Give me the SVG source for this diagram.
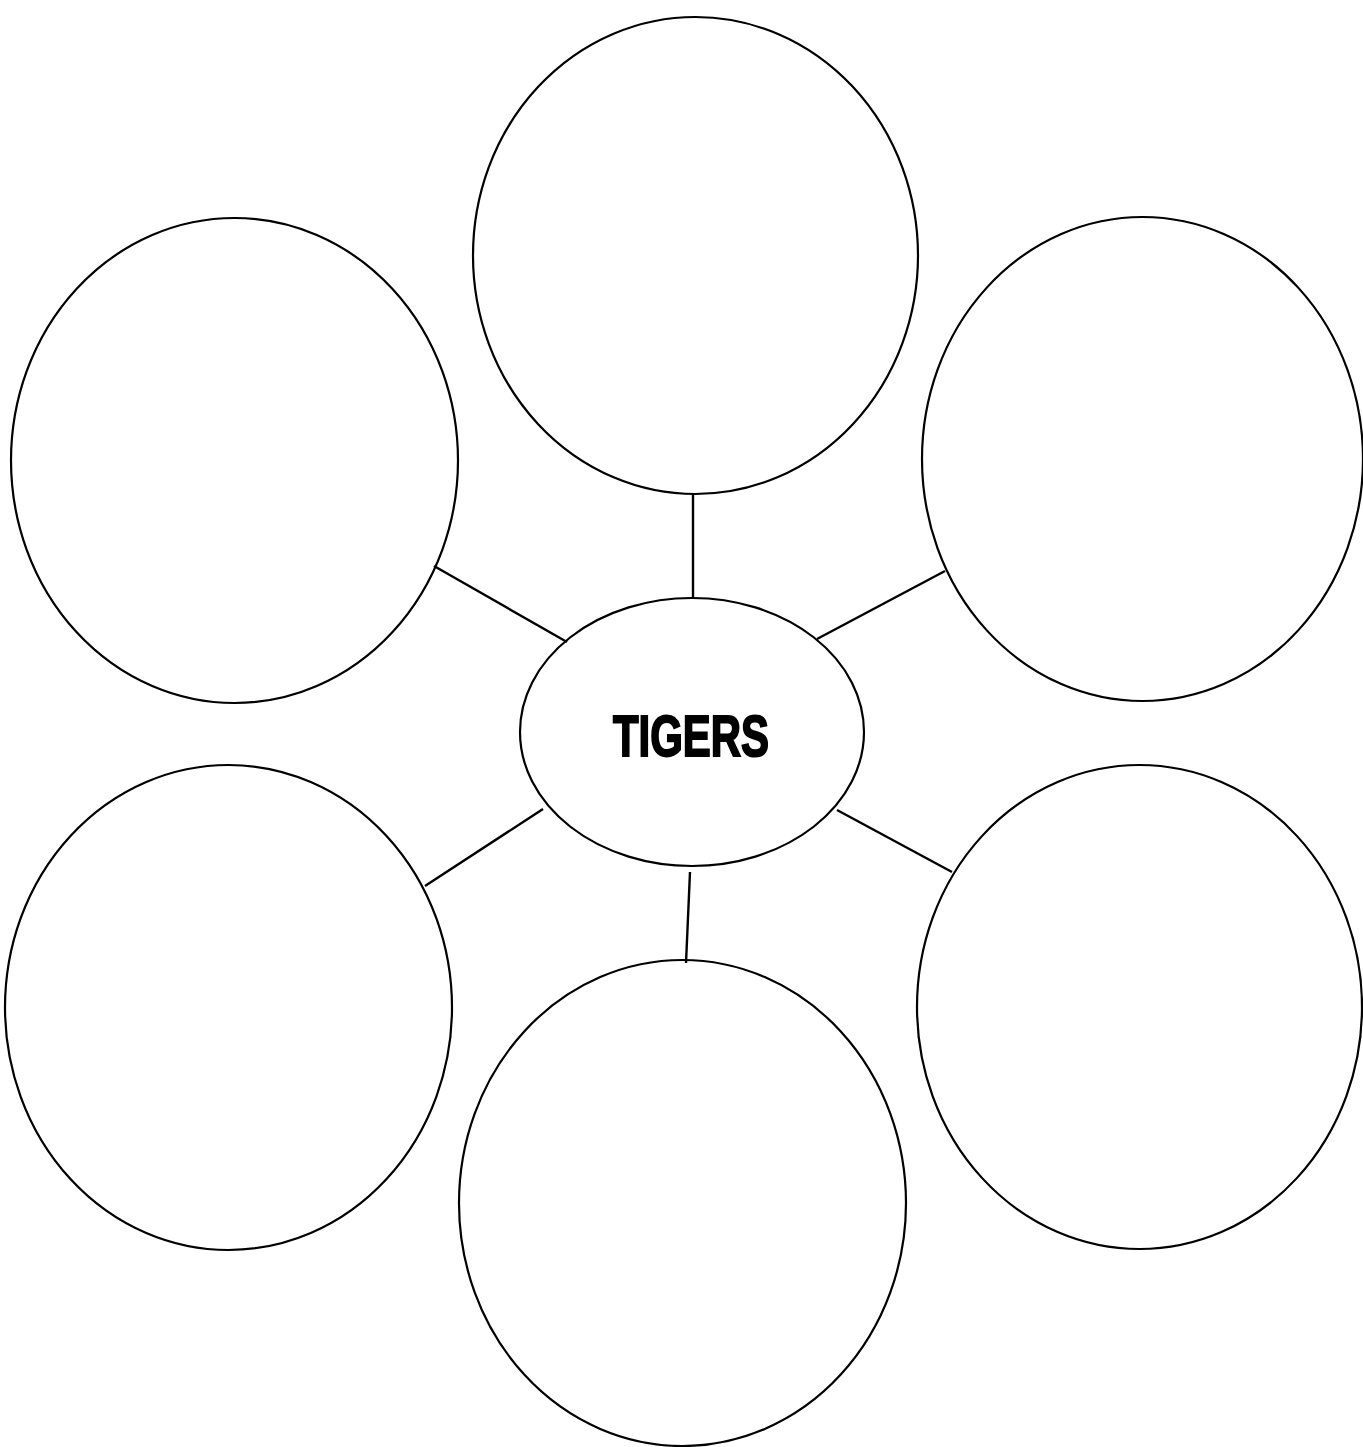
<svg xmlns="http://www.w3.org/2000/svg" width="1363" height="1447" viewBox="0 0 1363 1447">
<style>
.n{fill:none;stroke:#000;stroke-width:2.2}
.c line{stroke:#000;stroke-width:2.4}
.t{font-family:"Liberation Sans",Arial,sans-serif;font-weight:bold;font-size:57px;fill:#000;stroke:#000;stroke-width:2}
</style>
<rect width="1363" height="1447" fill="#fff"/>
<g class="c" id="connectors">
<line x1="693" y1="494" x2="693" y2="599"/>
<line x1="434" y1="566" x2="567" y2="642"/>
<line x1="945" y1="571" x2="817" y2="639"/>
<line x1="543" y1="809" x2="425" y2="886"/>
<line x1="837" y1="810" x2="952" y2="872"/>
<line x1="690" y1="872" x2="686" y2="963"/>
</g>
<g id="top"><ellipse class="n" cx="695.5" cy="255.5" rx="222.5" ry="238.5"/></g>
<g id="upper-left"><ellipse class="n" cx="234.5" cy="460.5" rx="223.5" ry="242.5"/></g>
<g id="upper-right"><ellipse class="n" cx="1142.5" cy="459" rx="220.5" ry="242"/></g>
<g id="lower-left"><ellipse class="n" cx="228.5" cy="1007.5" rx="223.5" ry="242.5"/></g>
<g id="lower-right"><ellipse class="n" cx="1139.5" cy="1007" rx="222.5" ry="242"/></g>
<g id="bottom"><ellipse class="n" cx="682.5" cy="1203" rx="223.5" ry="243"/></g>
<g id="center">
<ellipse class="n" cx="692" cy="732" rx="172" ry="134"/>
<text class="t" x="613" y="756" textLength="156" lengthAdjust="spacingAndGlyphs">TIGERS</text>
</g>
</svg>
